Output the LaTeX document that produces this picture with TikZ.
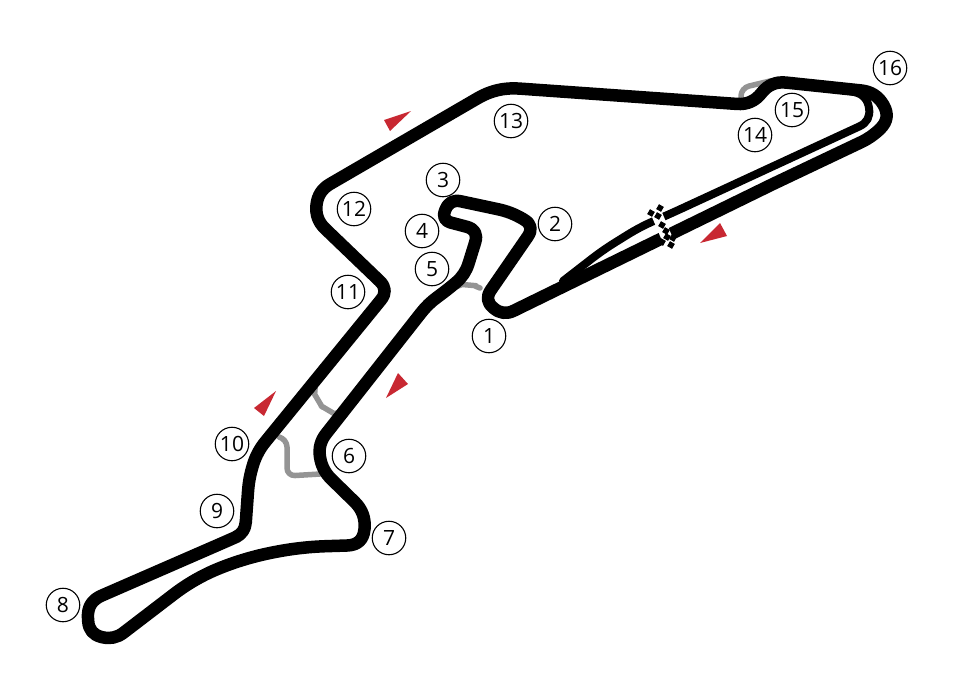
\documentclass[tikz,border=0pt]{standalone}
\usepackage{fontspec}
\usetikzlibrary{calc}
\setmainfont{Open Sans}
\definecolor{crimsonmark}{RGB}{200,40,50}
\def\cn#1#2#3#4{-- ($(v#2)!#4pt!(v#1)$) .. controls ($(v#2)!#4*0.33pt!(v#1)$) and ($(v#2)!#4*0.33pt!(v#3)$) .. ($(v#2)!#4pt!(v#3)$) }
\def\pc#1#2#3#4{-- ($(p#2)!#4pt!(p#1)$) .. controls ($(p#2)!#4*0.33pt!(p#1)$) and ($(p#2)!#4*0.33pt!(p#3)$) .. ($(p#2)!#4pt!(p#3)$) }
\tikzset{
  turn/.style={circle,draw=black,line width=1.1pt,fill=white,minimum size=33.5pt,inner sep=0pt,font=\fontsize{21}{21}\selectfont},
  track/.style={draw=black,line width=12.5pt,line cap=round,line join=round},
  pit/.style={draw=black,line width=8pt,line cap=round,line join=round},
  runoff/.style={draw=black!42,line width=5.5pt,line cap=round,line join=round,rounded corners=8pt},
  dirmark/.style={fill=crimsonmark,draw=none}
}
\begin{document}
\begin{tikzpicture}[x=1pt,y=-1pt]
\useasboundingbox (0,0) rectangle (965,686);
\fill[white] (0,0) rectangle (965,686);
% run-off links
\draw[runoff] plot[smooth,tension=0.8] coordinates {(458,286)(468,285)(480,288)};
\draw[runoff] (741,102)--(741,88)--(770,81);
\draw[runoff] plot[smooth,tension=0.8] coordinates {(315,388)(318,400)(328,410)(340,413)};
\draw[runoff] (279,437)--(287,439)--(287,476)--(320,474);
% pit lane
\foreach \n/\x/\y in {1/563/281,2/603/250,3/640/227,4/672/213,5/871/121,6/867/95,7/850/91}
  \coordinate (p\n) at (\x,\y);
\draw[pit] (p1) \pc{1}{2}{3}{15} \pc{2}{3}{4}{15} \pc{3}{4}{5}{14} \pc{4}{5}{6}{13} \pc{5}{6}{7}{13} -- (p7);
% main circuit
\foreach \n/\x/\y in {1/773/184,2/503/316,3/484/300,4/535/226,5/511/212,6/450/199,7/441/220,8/479/230,9/465/275,10/447/290,11/428/304,12/318/444,13/322/470,14/366/513,15/363/545,16/300/547,17/245/558,18/195/578,19/114/640,20/89/634,21/87/602,22/227/541,23/245/533,24/249/478,25/257/452,26/389/290,27/315/219,28/318/191,29/497/87,30/752/105,31/771/81,32/876/92,33/891/118,34/872/137}
  \coordinate (v\n) at (\x,\y);
\draw[track] (v1) \cn{1}{2}{3}{12} \cn{2}{3}{4}{12} \cn{3}{4}{5}{13} \cn{4}{5}{6}{13} \cn{5}{6}{7}{11} \cn{6}{7}{8}{11} \cn{7}{8}{9}{13} \cn{8}{9}{10}{12} \cn{9}{10}{11}{11} \cn{10}{11}{12}{11} \cn{11}{12}{13}{13} \cn{12}{13}{14}{13} \cn{13}{14}{15}{16} \cn{14}{15}{16}{16} \cn{15}{16}{17}{27} \cn{16}{17}{18}{27} \cn{17}{18}{19}{27} \cn{18}{19}{20}{12} \cn{19}{20}{21}{13} \cn{20}{21}{22}{16} \cn{21}{22}{23}{11} \cn{22}{23}{24}{11} \cn{23}{24}{25}{13} \cn{24}{25}{26}{13} \cn{25}{26}{27}{13} \cn{26}{27}{28}{14} \cn{27}{28}{29}{14} \cn{28}{29}{30}{22} \cn{29}{30}{31}{15} \cn{30}{31}{32}{15} \cn{31}{32}{33}{15} \cn{32}{33}{34}{15} \cn{33}{34}{1}{12} -- cycle;
% start line
\draw[white,line width=11pt] (655,210)--(669,243);
\foreach \sx/\sy in {651/213,660/208,658/216,662/225,666/231,673/238,671/245,662/242,667/237}{
  \fill[black,shift={(\sx,\sy)},rotate=-30] (-2.8,-2.8) rectangle (2.8,2.8);
}
% direction marks
\fill[dirmark] (700,243)--(720,223)--(727,236)--cycle;
\fill[dirmark] (384,120)--(411,111)--(390,131)--cycle;
\fill[dirmark] (276,391)--(254,408)--(264,416)--cycle;
\fill[dirmark] (398,373)--(408,384)--(386,398)--cycle;
% numbered corners
\node[turn] (t1) at (489,336) {1};
\node[turn] (t2) at (555,224) {2};
\node[turn] (t3) at (443,180) {3};
\node[turn] (t4) at (422,231) {4};
\node[turn] (t5) at (432,269) {5};
\node[turn] (t6) at (349,456) {6};
\node[turn] (t7) at (389,538) {7};
\node[turn] (t8) at (63,605) {8};
\node[turn] (t9) at (217,511) {9};
\node[turn] (t10) at (232,444) {10};
\node[turn] (t11) at (348,292) {11};
\node[turn] (t12) at (354,209) {12};
\node[turn] (t13) at (511,121) {13};
\node[turn] (t14) at (755,135) {14};
\node[turn] (t15) at (792,110) {15};
\node[turn] (t16) at (890,68) {16};
\end{tikzpicture}
\end{document}
